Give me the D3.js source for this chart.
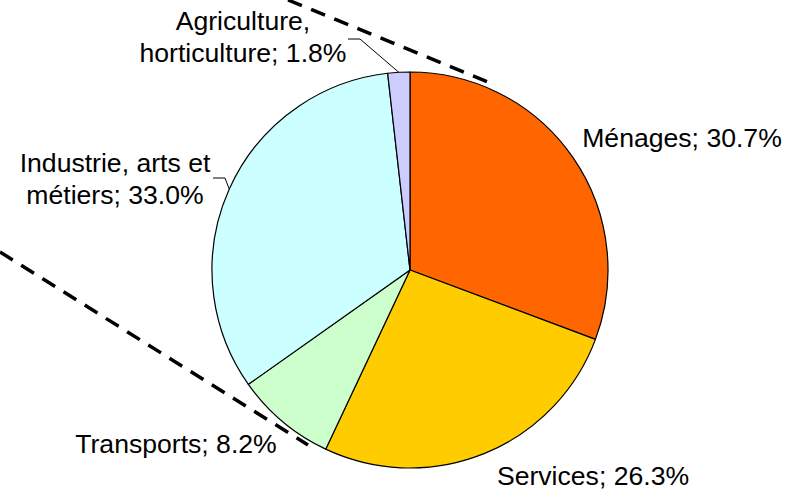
<!DOCTYPE html>
<html>
<head>
<meta charset="utf-8">
<script src="https://cdn.jsdelivr.net/npm/d3@7"></script>
<style>
  body { margin: 0; background: #fff; }
  text { font-family: "Liberation Sans", Arial, sans-serif; font-size: 26.6px; fill: #000; }
</style>
</head>
<body>
<div id="chart"></div>
<script>
// data
const sectors = ["Ménages", "Services", "Transports", "Industrie, arts et métiers", "Agriculture, horticulture"];
const shares = [30.7, 26.3, 8.2, 33.0, 1.8];
const colors = ["#FF6600", "#FFCC00", "#CCFFCC", "#CCFFFF", "#CCCCFF"];
const labelLines = [
    ["Ménages; 30.7%"],
    ["Services; 26.3%"],
    ["Transports; 8.2%"],
    ["Industrie, arts et", "métiers; 33.0%"],
    ["Agriculture,", "horticulture; 1.8%"]
];

const width = 801, height = 493;
const cx = 410, cy = 270, radius = 198;

// label placement (layout only)
const labelPos = [
    { x: 682, y: 147, leader: false },
    { x: 593, y: 485, leader: false },
    { x: 176, y: 453, leader: false },
    { x: 115, y: 172, leader: true, hx: 213, hy: 178 },
    { x: 243, y: 30, leader: true, hx: 348, hy: 39 }
];

const svg = d3.select("#chart")
    .append("svg")
    .attr("width", width)
    .attr("height", height);

// dashed connector lines (cut by the frame)
const connectors = [
    [[288, 0], [488, 82]],
    [[0, 252], [308, 445]]
];
svg.selectAll(".conn")
    .data(connectors)
    .join("path")
    .attr("class", "conn")
    .attr("d", d3.line())
    .attr("fill", "none")
    .attr("stroke", "#000")
    .attr("stroke-width", 3.5)
    .attr("stroke-dasharray", "15,10");

const g = svg.append("g")
    .attr("transform", `translate(${cx}, ${cy})`);

const pie = d3.pie().sort(null).value(d => d);
const arcs = pie(shares);
const arc = d3.arc().innerRadius(0).outerRadius(radius);

g.selectAll(".slice")
    .data(arcs)
    .join("path")
    .attr("class", "slice")
    .attr("d", arc)
    .attr("fill", (d, i) => colors[i])
    .attr("stroke", "#000")
    .attr("stroke-width", 1.2)
    .attr("stroke-linejoin", "round");

// leader lines
arcs.forEach(function (d, i) {
    const p = labelPos[i];
    if (!p.leader) return;
    const a = (d.startAngle + d.endAngle) / 2;
    const ex = cx + radius * Math.sin(a), ey = cy - radius * Math.cos(a);
    const mx = p.hx + (ex > p.hx ? 12 : -12);
    svg.append("path")
        .attr("d", d3.line()([[p.hx, p.hy], [mx, p.hy], [ex, ey]]))
        .attr("fill", "none")
        .attr("stroke", "#000")
        .attr("stroke-width", 1);
});

// labels
labelLines.forEach(function (lines, i) {
    const p = labelPos[i];
    const t = svg.append("text")
        .attr("text-anchor", "middle");
    lines.forEach(function (l, j) {
        t.append("tspan")
            .attr("x", p.x)
            .attr("y", p.y + j * 32)
            .text(l);
    });
});
</script>
</body>
</html>
